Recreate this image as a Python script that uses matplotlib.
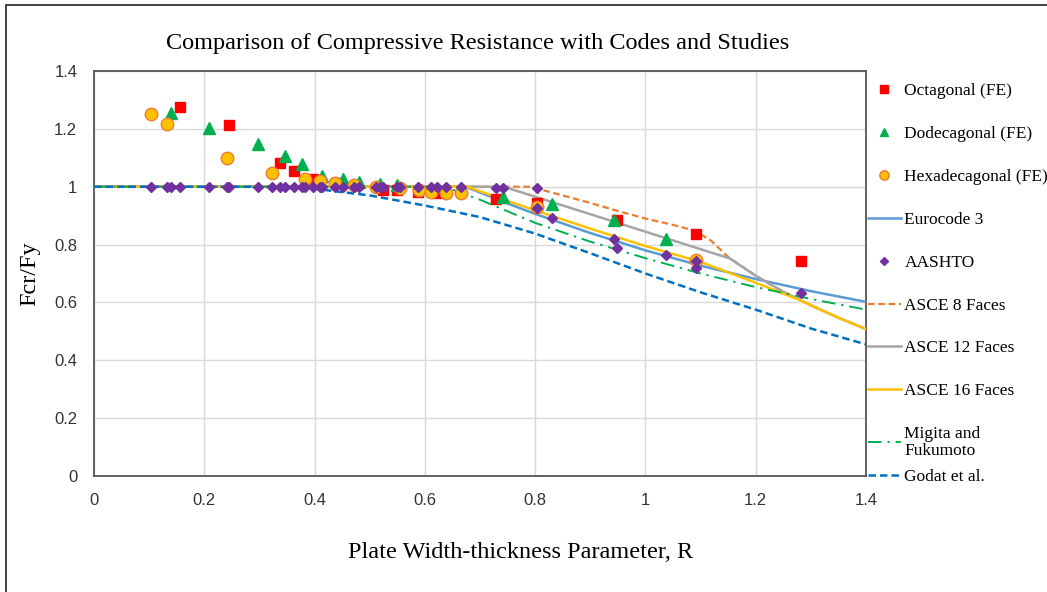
import matplotlib
matplotlib.use('Agg')
import matplotlib.pyplot as plt
from matplotlib.patches import Rectangle

# FE results
oct_r = [0.156, 0.245, 0.337, 0.363, 0.397, 0.439, 0.524, 0.549, 0.588, 0.622, 0.729, 0.803, 0.949, 1.092, 1.283]
oct_f = [1.275, 1.213, 1.082, 1.054, 1.027, 1.013, 0.989, 0.990, 0.982, 0.977, 0.957, 0.943, 0.885, 0.836, 0.743]

dod_r = [0.139, 0.209, 0.298, 0.346, 0.378, 0.414, 0.452, 0.481, 0.519, 0.549, 0.742, 0.830, 0.943, 1.037]
dod_f = [1.256, 1.204, 1.147, 1.106, 1.078, 1.038, 1.027, 1.017, 1.008, 1.006, 0.965, 0.940, 0.885, 0.819]

hex_r = [0.103, 0.132, 0.241, 0.323, 0.383, 0.409, 0.437, 0.472, 0.511, 0.555, 0.590, 0.612, 0.638, 0.666, 0.804, 1.092]
hex_f = [1.251, 1.218, 1.098, 1.046, 1.028, 1.021, 1.012, 1.007, 1.000, 0.995, 0.987, 0.983, 0.977, 0.980, 0.929, 0.747]

aashto_r = [0.103, 0.132, 0.139, 0.156, 0.209, 0.241, 0.245, 0.298, 0.323, 0.337,
            0.346, 0.363, 0.378, 0.383, 0.397, 0.409, 0.414, 0.437, 0.452, 0.472,
            0.481, 0.511, 0.519, 0.524, 0.549, 0.555, 0.588, 0.612, 0.622, 0.638,
            0.666, 0.729, 0.742, 0.803, 0.804, 0.830, 0.943, 0.949, 1.037, 1.092,
            1.092, 1.283]
aashto_f = [1.0, 1.0, 1.0, 1.0, 1.0, 1.0, 1.0, 1.0, 1.0, 1.0,
            1.0, 1.0, 1.0, 1.0, 1.0, 1.0, 1.0, 1.0, 1.0, 1.0,
            1.0, 1.0, 1.0, 1.0, 1.0, 1.0, 1.0, 1.0, 1.0, 1.0,
            1.0, 0.996, 0.996, 0.996, 0.926, 0.893, 0.818, 0.789, 0.763, 0.744,
            0.718, 0.634]

# code / study curves
euro_r = [0, 0.673, 0.7, 0.75, 0.8, 0.9, 1.0, 1.1, 1.2, 1.3, 1.4]
euro_f = [1.0, 1.0, 0.98, 0.942, 0.906, 0.84, 0.78, 0.727, 0.681, 0.639, 0.602]

asce8_r = [0, 0.79, 0.84, 0.9, 0.95, 1.0, 1.05, 1.09, 1.12, 1.15, 1.2, 1.25, 1.3, 1.35, 1.4]
asce8_f = [1.0, 1.0, 0.975, 0.944, 0.916, 0.89, 0.868, 0.848, 0.812, 0.757, 0.692, 0.637, 0.590, 0.547, 0.508]

asce12_r = [0, 0.743, 1.153, 1.2, 1.25, 1.3, 1.35, 1.4]
asce12_f = [1.0, 1.0, 0.752, 0.692, 0.637, 0.590, 0.547, 0.508]

asce16_r = [0, 0.676, 0.8, 0.9, 1.0, 1.1, 1.2, 1.28, 1.35, 1.4]
asce16_f = [1.0, 1.0, 0.918, 0.855, 0.795, 0.74, 0.668, 0.608, 0.547, 0.508]

migita_r = [0, 0.62, 0.65, 0.7, 0.8, 0.9, 1.0, 1.1, 1.2, 1.3, 1.4]
migita_f = [1.0, 1.0, 0.99, 0.955, 0.875, 0.81, 0.753, 0.70, 0.653, 0.612, 0.575]

godat_r = [0, 0.3, 0.4, 0.5, 0.6, 0.7, 0.8, 0.9, 1.0, 1.1, 1.2, 1.3, 1.4]
godat_f = [1.0, 1.0, 0.993, 0.97, 0.935, 0.895, 0.838, 0.77, 0.70, 0.635, 0.575, 0.51, 0.455]

ticks = [0, 0.2, 0.4, 0.6, 0.8, 1, 1.2, 1.4]
tick_labels = ['0', '0.2', '0.4', '0.6', '0.8', '1', '1.2', '1.4']

serif = 'Liberation Serif'

fig = plt.figure(figsize=(10.47, 5.92), dpi=100)
ax = fig.add_axes([94 / 1047, 1 - 476 / 592, 772 / 1047, 405 / 592])

# lines first, markers on top
dash = (0, (3, 1.6))
l_euro, = ax.plot(euro_r, euro_f, c='#5B9BD5', lw=1.8, label='Eurocode 3', zorder=3)
l_a8, = ax.plot(asce8_r, asce8_f, c='#ED7D31', lw=1.6, ls=dash, label='ASCE 8 Faces', zorder=3)
l_a12, = ax.plot(asce12_r, asce12_f, c='#A5A5A5', lw=1.8, label='ASCE 12 Faces', zorder=3)
l_a16, = ax.plot(asce16_r, asce16_f, c='#FFC000', lw=1.8, label='ASCE 16 Faces', zorder=3)
l_mig, = ax.plot(migita_r, migita_f, c='#00B050', lw=1.4, ls=(0, (7, 3, 1.2, 3)),
                 label='Migita and\nFukumoto', zorder=3)
l_god, = ax.plot(godat_r, godat_f, c='#0070C0', lw=1.8, ls=dash, label='Godat et al.', zorder=3)

s_oct, = ax.plot(oct_r, oct_f, 's', ms=7, c='#FF0000', mec='#FF0000', label='Octagonal (FE)', zorder=5)
s_dod, = ax.plot(dod_r, dod_f, '^', ms=8.5, c='#00B050', mec='#00B050', label='Dodecagonal (FE)', zorder=5)
s_hex, = ax.plot(hex_r, hex_f, 'o', ms=9, c='#FFC000', mec='#ED7D31', mew=1.0,
                 label='Hexadecagonal (FE)', zorder=5)
s_aas, = ax.plot(aashto_r, aashto_f, 'D', ms=5.5, c='#7030A0', mec='#7030A0', label='AASHTO', zorder=6)

ax.set_xlim(0, 1.4)
ax.set_ylim(0, 1.4)
ax.set_xticks(ticks)
ax.set_xticklabels(tick_labels)
ax.set_yticks(ticks)
ax.set_yticklabels(tick_labels)
ax.tick_params(length=0, labelsize=12, pad=12, labelcolor='#333333')
for lab in ax.get_xticklabels() + ax.get_yticklabels():
    lab.set_family('Liberation Sans')
ax.grid(True, color='#D9D9D9', lw=1.0, zorder=0)
ax.set_axisbelow(True)
for sp in ax.spines.values():
    sp.set_color('#555555')
    sp.set_linewidth(1.3)

ax.set_xlabel('Plate Width-thickness Parameter, R', family=serif, fontsize=17.5)
ax.xaxis.set_label_coords((521 - 94) / 772, -(553 - 476) / 405)
ax.set_ylabel('Fcr/Fy', family=serif, fontsize=17.5)
ax.yaxis.set_label_coords(-(94 - 30) / 772, 0.5)
ax.xaxis.label.set_va('center')
ax.yaxis.label.set_va('center')

fig.text(478 / 1047, 1 - 43 / 592, 'Comparison of Compressive Resistance with Codes and Studies',
         family=serif, fontsize=17.5, ha='center', va='center')

# legend in two pieces so the last entry sits tight under the two-line label
leg_kw = dict(loc='upper left', frameon=False, prop={'family': serif, 'size': 12.5},
              handlelength=1.9, handletextpad=0.2, borderpad=0, borderaxespad=0,
              markerscale=0.75)
handles = [s_oct, s_dod, s_hex, l_euro, s_aas, l_a8, l_a12, l_a16, l_mig]
leg = fig.legend(handles=handles, bbox_to_anchor=(868 / 1047, 1 - 83 / 592),
                 labelspacing=1.54, **leg_kw)
leg.get_texts()[8].set_linespacing(1.05)
leg2 = fig.legend(handles=[l_god], bbox_to_anchor=(868 / 1047, 1 - 469 / 592), **leg_kw)

# thin frame round the chart area
fig.add_artist(Rectangle((6 / 1047, -0.1), 2, 1.1 - 5 / 592, transform=fig.transFigure,
                         fill=False, ec='#222222', lw=1.2))

fig.savefig('out.png', dpi=100)
